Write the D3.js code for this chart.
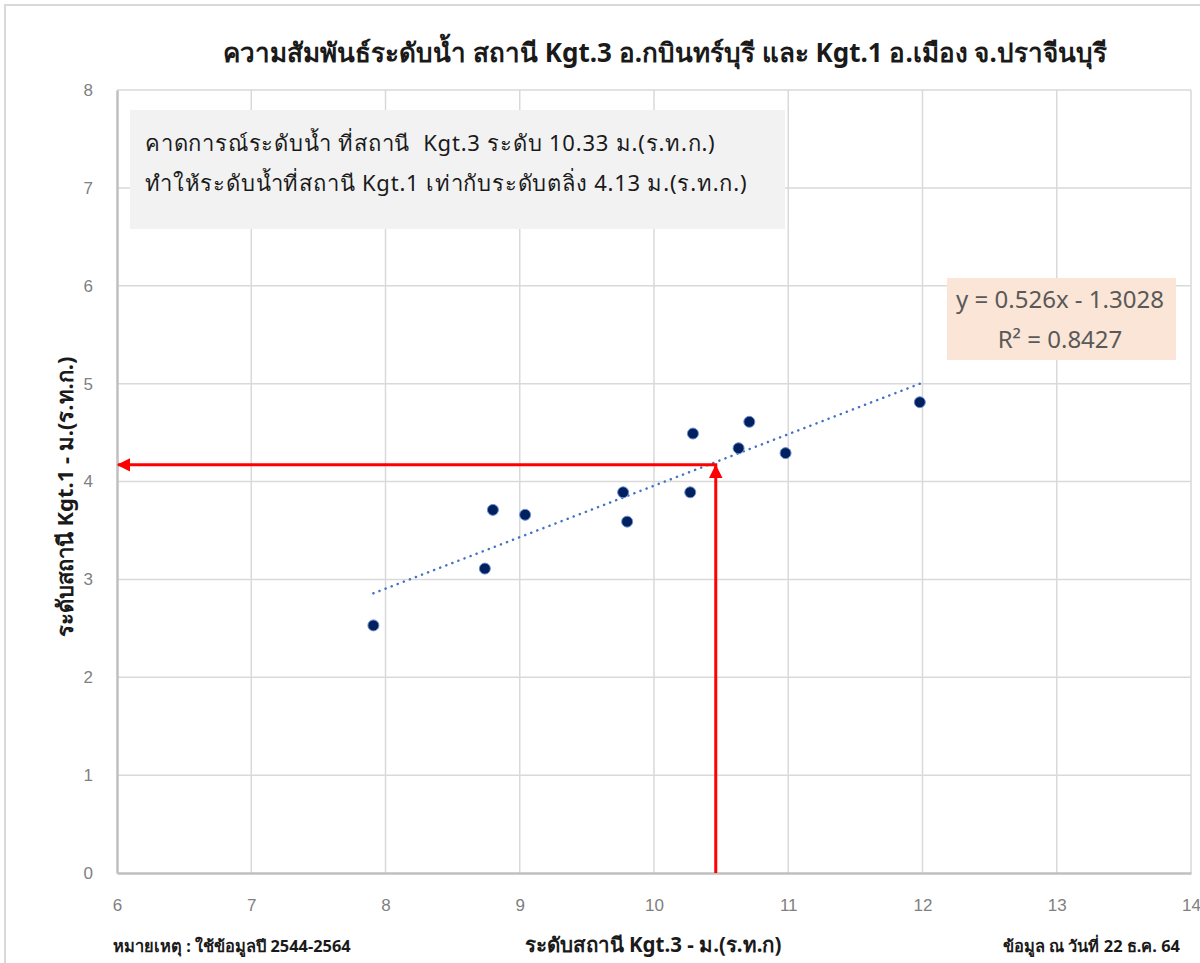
<!DOCTYPE html>
<html>
<head>
<meta charset="utf-8">
<script src="https://cdn.jsdelivr.net/npm/d3@7"></script>
<style>
  body { margin: 0; background: #fff; }
  svg { display: block; font-family: "Noto Sans", "DejaVu Sans", sans-serif; }
</style>
</head>
<body>
<svg id="chart" width="1200" height="963"></svg>
<script>
// water level Kgt.3 (x) vs Kgt.1 (y), metres MSL
const kgt3 = [7.91, 8.74, 8.80, 9.04, 9.77, 9.80, 10.27, 10.29, 10.63, 10.71, 10.98, 11.98];
const kgt1 = [2.53, 3.11, 3.71, 3.66, 3.89, 3.59, 3.89, 4.49, 4.34, 4.61, 4.29, 4.81];
const xTicks = [6, 7, 8, 9, 10, 11, 12, 13, 14];
const yTicks = [0, 1, 2, 3, 4, 5, 6, 7, 8];
const slope = 0.526, intercept = -1.3028;
const forecast = [10.46, 4.17]; // where the red arrows meet

const title = "ความสัมพันธ์ระดับน้ำ สถานี Kgt.3 อ.กบินทร์บุรี และ Kgt.1 อ.เมือง จ.ปราจีนบุรี";
const noteLines = [
  "คาดการณ์ระดับน้ำ ที่สถานี  Kgt.3 ระดับ 10.33 ม.(ร.ท.ก.)",
  "ทำให้ระดับน้ำที่สถานี Kgt.1 เท่ากับระดับตลิ่ง 4.13 ม.(ร.ท.ก.)"
];
const eqLines = ["y = 0.526x - 1.3028", "R² = 0.8427"];
const xTitle = "ระดับสถานี Kgt.3 - ม.(ร.ท.ก)";
const yTitle = "ระดับสถานี Kgt.1 - ม.(ร.ท.ก.)";
const footLeft = "หมายเหตุ : ใช้ข้อมูลปี 2544-2564";
const footRight = "ข้อมูล ณ วันที่ 22 ธ.ค. 64";

const svg = d3.select("#chart");

// outer frame
svg.append("rect")
  .attr("x", 5).attr("y", 5).attr("width", 1210).attr("height", 980)
  .attr("fill", "none").attr("stroke", "#d9d9d9").attr("stroke-width", 2);

const x = d3.scaleLinear().domain([6, 14]).range([117, 1191]);
const y = d3.scaleLinear().domain([0, 8]).range([873, 90]);

// gridlines
svg.append("g").selectAll("line").data(xTicks.slice(1)).join("line")
  .attr("x1", d => x(d)).attr("x2", d => x(d))
  .attr("y1", y(0)).attr("y2", y(8))
  .attr("stroke", "#d9d9d9").attr("stroke-width", 1.5);
svg.append("g").selectAll("line").data(yTicks.slice(1)).join("line")
  .attr("x1", x(6)).attr("x2", x(14))
  .attr("y1", d => y(d)).attr("y2", d => y(d))
  .attr("stroke", "#d9d9d9").attr("stroke-width", 1.5);

// axes
const tickFont = "17px 'Liberation Sans Narrow', 'Liberation Sans', sans-serif";
const xAxis = svg.append("g")
  .attr("transform", `translate(0,${y(0)})`)
  .call(d3.axisBottom(x).tickValues(xTicks).tickSize(0).tickPadding(26));
const yAxis = svg.append("g")
  .attr("transform", `translate(${x(6)},0)`)
  .call(d3.axisLeft(y).tickValues(yTicks).tickSize(0).tickPadding(24));
[xAxis, yAxis].forEach(a => {
  a.select(".domain").attr("stroke", "#bfbfbf").attr("stroke-width", 2.5);
  a.selectAll("text").style("font", tickFont).attr("fill", "#808080");
});

// grey note box
svg.append("rect")
  .attr("x", 130).attr("y", 110).attr("width", 655).attr("height", 119)
  .attr("fill", "#f2f2f2");
svg.append("g").selectAll("text").data(noteLines).join("text")
  .attr("x", 145).attr("y", (d, i) => 151 + i * 40)
  .attr("font-size", 22).attr("letter-spacing", 0.8).attr("fill", "#1a1a1a")
  .style("white-space", "pre")
  .text(d => d);

// equation box
svg.append("rect")
  .attr("x", 947).attr("y", 278).attr("width", 229).attr("height", 82)
  .attr("fill", "#fbe5d6");
svg.append("g").selectAll("text").data(eqLines).join("text")
  .attr("x", 1060).attr("y", (d, i) => 308 + i * 40)
  .attr("text-anchor", "middle")
  .attr("font-size", 24).attr("fill", "#595959")
  .text(d => d);

// trendline
const xExt = d3.extent(kgt3);
svg.append("line")
  .attr("x1", x(xExt[0])).attr("y1", y(slope * xExt[0] + intercept))
  .attr("x2", x(xExt[1])).attr("y2", y(slope * xExt[1] + intercept))
  .attr("stroke", "#4472c4").attr("stroke-width", 2.5)
  .attr("stroke-dasharray", "0.1 6.4").attr("stroke-linecap", "round");

// points
svg.append("g").selectAll("circle").data(kgt3).join("circle")
  .attr("cx", d => x(d)).attr("cy", (d, i) => y(kgt1[i]))
  .attr("r", 5.5)
  .attr("fill", "#002060").attr("stroke", "#6f8fd0").attr("stroke-width", 1);

// red arrows
const defs = svg.append("defs");
defs.append("marker")
  .attr("id", "arrow").attr("viewBox", "0 0 10 10")
  .attr("refX", 9).attr("refY", 5)
  .attr("markerWidth", 4.5).attr("markerHeight", 4.5)
  .attr("markerUnits", "strokeWidth")
  .attr("orient", "auto")
  .append("path").attr("d", "M0,0L10,5L0,10Z").attr("fill", "#ff0000");
svg.append("line")
  .attr("x1", x(forecast[0])).attr("y1", y(0))
  .attr("x2", x(forecast[0])).attr("y2", y(forecast[1]) + 1)
  .attr("stroke", "#ff0000").attr("stroke-width", 3)
  .attr("marker-end", "url(#arrow)");
svg.append("line")
  .attr("x1", x(forecast[0]) + 1.5).attr("y1", y(forecast[1]))
  .attr("x2", x(6) + 1).attr("y2", y(forecast[1]))
  .attr("stroke", "#ff0000").attr("stroke-width", 3)
  .attr("marker-end", "url(#arrow)");

// titles
svg.append("text")
  .attr("x", 665).attr("y", 62).attr("text-anchor", "middle")
  .attr("font-size", 26).attr("font-weight", "bold").attr("fill", "#1a1a1a")
  .text(title);
svg.append("text")
  .attr("transform", "translate(73,497) rotate(-90)")
  .attr("text-anchor", "middle")
  .attr("font-size", 22).attr("font-weight", "bold").attr("fill", "#1a1a1a")
  .text(yTitle);
svg.append("text")
  .attr("x", 653).attr("y", 952).attr("text-anchor", "middle")
  .attr("font-size", 20.5).attr("font-weight", "bold").attr("fill", "#1a1a1a")
  .text(xTitle);
svg.append("text")
  .attr("x", 113).attr("y", 952)
  .attr("font-size", 16.4).attr("font-weight", "bold").attr("fill", "#1a1a1a")
  .text(footLeft);
svg.append("text")
  .attr("x", 1180).attr("y", 952).attr("text-anchor", "end")
  .attr("font-size", 16.4).attr("font-weight", "bold").attr("fill", "#1a1a1a")
  .text(footRight);
</script>
</body>
</html>
